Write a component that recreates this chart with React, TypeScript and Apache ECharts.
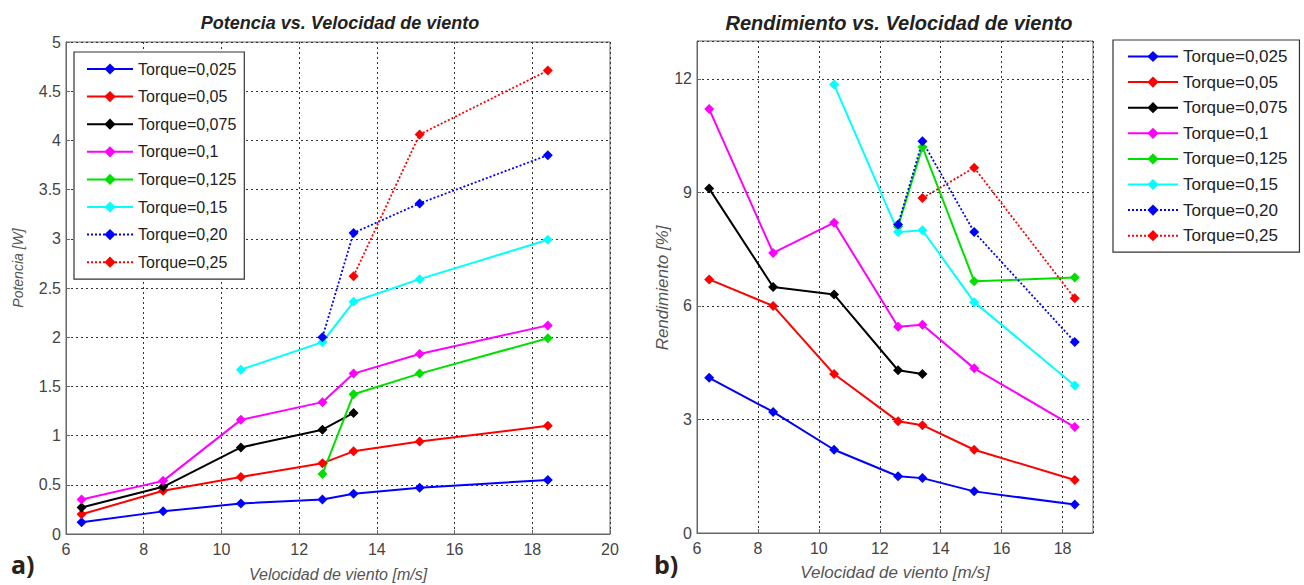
import React, { useEffect, useRef } from "react";
import * as echarts from "echarts";

const windSpeeds = [6.4, 8.5, 10.5, 12.6, 13.4, 15.1, 18.4];
const torqueNames = [
  "Torque=0,025",
  "Torque=0,05",
  "Torque=0,075",
  "Torque=0,1",
  "Torque=0,125",
  "Torque=0,15",
  "Torque=0,20",
  "Torque=0,25",
];
const torqueColors = ["#0000ff", "#ff0000", "#000000", "#ff00ff", "#00e000", "#00ffff", "#0000ff", "#ff0000"];
const torqueDotted = [false, false, false, false, false, false, true, true];

// Potencia [W]
const potencia025 = [0.12, 0.23, 0.31, 0.35, 0.41, 0.47, 0.55];
const potencia05 = [0.2, 0.44, 0.58, 0.72, 0.84, 0.94, 1.1];
const potencia075 = [0.27, 0.48, 0.88, 1.06, 1.23, null, null];
const potencia10 = [0.35, 0.54, 1.16, 1.34, 1.63, 1.83, 2.12];
const potencia125 = [null, null, null, 0.61, 1.42, 1.63, 1.99];
const potencia15 = [null, null, 1.67, 1.95, 2.36, 2.59, 2.99];
const potencia20 = [null, null, null, 2.0, 3.06, 3.36, 3.85];
const potencia25 = [null, null, null, null, 2.62, 4.06, 4.71];

// Rendimiento [%]
const rend025 = [4.1, 3.2, 2.2, 1.5, 1.45, 1.1, 0.75];
const rend05 = [6.7, 6.0, 4.2, 2.95, 2.85, 2.2, 1.4];
const rend075 = [9.1, 6.5, 6.3, 4.3, 4.2, null, null];
const rend10 = [11.2, 7.4, 8.2, 5.45, 5.5, 4.35, 2.8];
const rend125 = [null, null, null, 8.1, 10.2, 6.65, 6.75];
const rend15 = [null, null, 11.85, 7.95, 8.0, 6.1, 3.9];
const rend20 = [null, null, null, 8.15, 10.35, 7.95, 5.05];
const rend25 = [null, null, null, null, 8.85, 9.65, 6.2];

const potenciaSets = [potencia025, potencia05, potencia075, potencia10, potencia125, potencia15, potencia20, potencia25];
const rendSets = [rend025, rend05, rend075, rend10, rend125, rend15, rend20, rend25];

const leftTicksX = [6, 20, 2];
const leftTicksY = [0, 5, 0.5];
const rightTicksX = [6, 19, 2];
const rightTicksY = [0, 13, 3];

function pairs(vals: (number | null)[]) {
  const out: number[][] = [];
  vals.forEach((v, i) => {
    if (v !== null) out.push([windSpeeds[i], v]);
  });
  return out;
}

const FONT = "Liberation Sans, Arial, sans-serif";

function makeAxis(type: "x" | "y", idx: number, ticks: number[], name: string, gap: number, hideMax: boolean, nameSize: number) {
  return {
    type: "value",
    gridIndex: idx,
    min: ticks[0],
    max: ticks[1],
    interval: ticks[2],
    name,
    nameLocation: "middle",
    nameGap: gap,
    nameTextStyle: { fontFamily: FONT, fontStyle: "italic", fontSize: nameSize, color: "#555" },
    axisLine: { show: true, onZero: false, lineStyle: { color: "#666", width: 1 } },
    axisTick: { show: true, inside: true, length: 4, lineStyle: { color: "#666" } },
    axisLabel: {
      fontFamily: FONT,
      fontSize: 16,
      color: "#444",
      margin: type === "x" ? 7 : 5,
      showMaxLabel: !hideMax,
    },
    splitLine: { show: true, lineStyle: { color: "#333", type: [2, 3], width: 1 } },
  };
}

export default function App() {
  const ref = useRef<HTMLDivElement>(null);
  useEffect(() => {
    if (!ref.current) return;
    const chart = echarts.init(ref.current, null, { renderer: "svg" });
    const series: any[] = [];
    [potenciaSets, rendSets].forEach((sets, gi) => {
      sets.forEach((vals, si) => {
        series.push({
          name: torqueNames[si],
          type: "line",
          xAxisIndex: gi,
          yAxisIndex: gi,
          data: pairs(vals),
          symbol: "diamond",
          symbolSize: 10,
          itemStyle: { color: torqueColors[si] },
          lineStyle: {
            color: torqueColors[si],
            width: torqueDotted[si] ? 1.8 : 2,
            type: torqueDotted[si] ? [2, 2] : "solid",
          },
        });
      });
    });
    const legendCommon = {
      orient: "vertical",
      data: torqueNames,
      backgroundColor: "#fff",
      borderColor: "#333",
      borderWidth: 1.2,
      borderRadius: 0,
      itemHeight: 14,
    };
    const titleStyle = { fontFamily: FONT, fontWeight: "bold", fontStyle: "italic", color: "#222" };
    chart.setOption({
      animation: false,
      backgroundColor: "#fff",
      title: [
        {
          text: "Potencia vs. Velocidad de viento",
          left: 335,
          top: 9,
          textAlign: "center",
          textStyle: { ...titleStyle, fontSize: 18 },
        },
        {
          text: "Rendimiento vs. Velocidad de viento",
          left: 894,
          top: 8,
          textAlign: "center",
          textStyle: { ...titleStyle, fontSize: 20 },
        },
      ],
      grid: [
        { left: 66, top: 42, width: 544, height: 492, show: true, borderColor: "#666", borderWidth: 1, backgroundColor: "transparent", outerBoundsMode: "none", containLabel: false },
        { left: 697, top: 41, width: 396, height: 492, show: true, borderColor: "#666", borderWidth: 1, backgroundColor: "transparent", outerBoundsMode: "none", containLabel: false },
      ],
      xAxis: [
        makeAxis("x", 0, leftTicksX, "Velocidad de viento [m/s]", 32, false, 16),
        makeAxis("x", 1, rightTicksX, "Velocidad de viento [m/s]", 31, true, 17),
      ],
      yAxis: [
        { ...makeAxis("y", 0, leftTicksY, "", 40, false, 14), name: "" },
        { ...makeAxis("y", 1, rightTicksY, "", 24, true, 17), name: "" },
      ],
      legend: [
        {
          ...legendCommon,
          left: 74,
          top: 52,
          itemWidth: 46,
          itemGap: 11.6,
          padding: [9, 8, 9, 12],
          textStyle: { fontFamily: FONT, fontSize: 16, lineHeight: 16, color: "#222" },
        },
        {
          ...legendCommon,
          left: 1113,
          top: 40,
          itemWidth: 50,
          itemGap: 8.6,
          padding: [8, 12, 8, 14],
          textStyle: { fontFamily: FONT, fontSize: 17, lineHeight: 17, color: "#222" },
        },
      ],
      graphic: [
        {
          type: "text",
          x: 18,
          y: 268,
          rotation: Math.PI / 2,
          style: { text: "Potencia [W]", fontFamily: FONT, fontStyle: "italic", fontSize: 14, fill: "#555", align: "center", verticalAlign: "middle" },
        },
        {
          type: "text",
          x: 662,
          y: 288,
          rotation: Math.PI / 2,
          style: { text: "Rendimiento [%]", fontFamily: FONT, fontStyle: "italic", fontSize: 17, fill: "#555", align: "center", verticalAlign: "middle" },
        },
        { type: "text", left: 11, top: 551, style: { text: "a)", fontFamily: "Open Sans, sans-serif", fontSize: 25, fontWeight: "bold", fill: "#2a2218" } },
        { type: "text", left: 654, top: 551, style: { text: "b)", fontFamily: "Open Sans, sans-serif", fontSize: 25, fontWeight: "bold", fill: "#2a2218" } },
      ],
      series,
    });
    return () => chart.dispose();
  }, []);
  return <div ref={ref} style={{ position: "absolute", left: 0, top: 0, width: 1304, height: 585 }} />;
}
